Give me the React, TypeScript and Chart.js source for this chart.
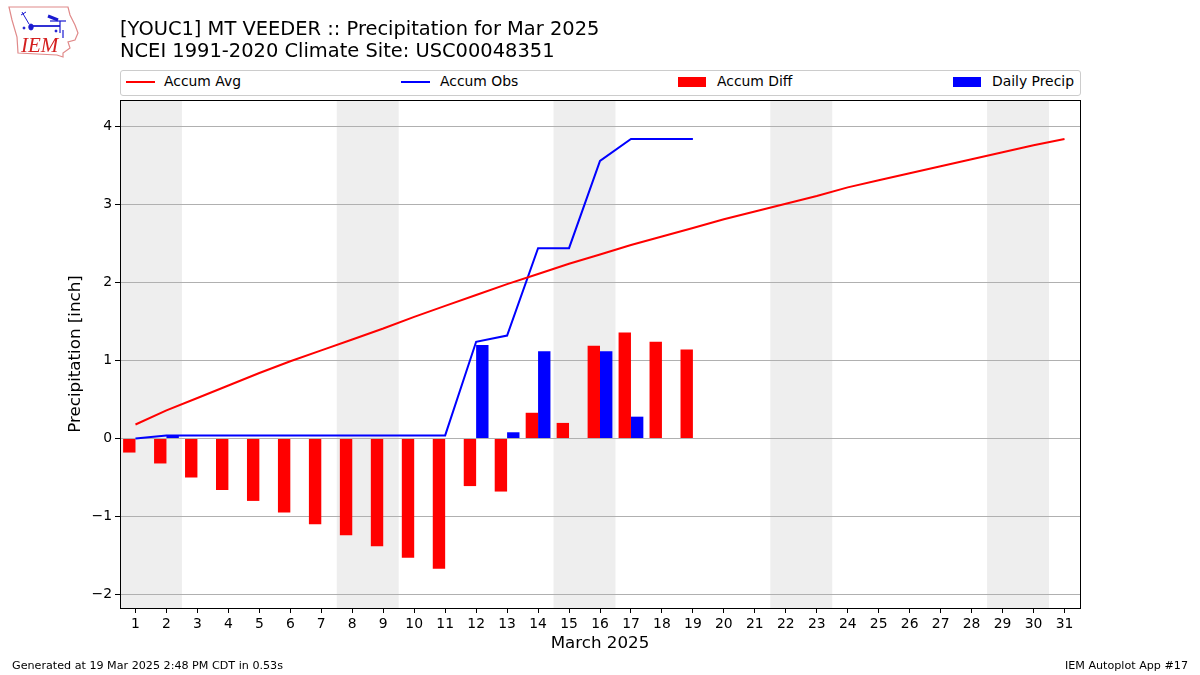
import React, { useEffect, useRef } from "react";
import { Chart, registerables } from "chart.js";

Chart.register(...registerables);

const days = ["1","2","3","4","5","6","7","8","9","10","11","12","13","14","15","16","17","18","19","20","21","22","23","24","25","26","27","28","29","30","31"];
const accumAvg = [0.18,0.36,0.52,0.68,0.84,0.99,1.13,1.27,1.41,1.56,1.70,1.84,1.98,2.11,2.24,2.36,2.48,2.59,2.70,2.81,2.91,3.01,3.11,3.22,3.31,3.40,3.49,3.58,3.67,3.76,3.84];
const accumObs = [0,0.04,0.04,0.04,0.04,0.04,0.04,0.04,0.04,0.04,0.04,1.24,1.32,2.44,2.44,3.56,3.84,3.84,3.84];
const accumDiff = [-0.18,-0.32,-0.50,-0.66,-0.80,-0.95,-1.10,-1.24,-1.38,-1.53,-1.67,-0.61,-0.68,0.33,0.20,1.19,1.36,1.24,1.14];
const dailyPrecip = [null,0.04,null,null,null,null,null,null,null,null,null,1.20,0.08,1.12,null,1.12,0.28,null,null];
const weekends = [[0,1],[7,8],[14,15],[21,22],[28,29]];
const yTicks = [-2,-1,0,1,2,3,4];
const yMin = -2.173;
const yMax = 4.34;
const titleLines = ["[YOUC1] MT VEEDER :: Precipitation for Mar 2025", "NCEI 1991-2020 Climate Site: USC00048351"];
const xTitle = "March 2025";
const yTitle = "Precipitation [inch]";
const footerLeft = "Generated at 19 Mar 2025 2:48 PM CDT in 0.53s";
const footerRight = "IEM Autoplot App #17";
const legendItems = [
  { label: "Accum Avg", color: "#ff0000", kind: "line", x: 126, tx: 164 },
  { label: "Accum Obs", color: "#0000ff", kind: "line", x: 401, tx: 440 },
  { label: "Accum Diff", color: "#ff0000", kind: "bar", x: 678, tx: 717 },
  { label: "Daily Precip", color: "#0000ff", kind: "bar", x: 953, tx: 992 },
];

const FONT = "'DejaVu Sans', sans-serif";

const framePlugin = {
  id: "frame",
  beforeDraw(chart: any) {
    const { ctx, chartArea: a, scales } = chart;
    const x = scales.x;
    const half = (x.getPixelForValue(1) - x.getPixelForValue(0)) / 2;
    ctx.save();
    ctx.fillStyle = "#eeeeee";
    for (const [s, e] of weekends) {
      const l = x.getPixelForValue(s) - half;
      const r = x.getPixelForValue(e) + half;
      ctx.fillRect(l, a.top, r - l, a.bottom - a.top);
    }
    ctx.restore();
  },
  afterDraw(chart: any) {
    const { ctx, chartArea: a } = chart;
    ctx.save();
    ctx.strokeStyle = "#000";
    ctx.lineWidth = 1;
    ctx.strokeRect(Math.floor(a.left) + 0.5, Math.floor(a.top) + 0.5, Math.round(a.right - a.left), Math.round(a.bottom - a.top));
    ctx.restore();
  },
};

export default function App() {
  const ref = useRef<HTMLCanvasElement>(null);
  useEffect(() => {
    const chart = new Chart(ref.current as any, {
      type: "bar",
      data: {
        labels: days,
        datasets: [
          { type: "line", label: "Accum Avg", data: accumAvg, borderColor: "#ff0000", borderWidth: 2, pointRadius: 0, tension: 0, order: 0 },
          { type: "line", label: "Accum Obs", data: accumObs, borderColor: "#0000ff", borderWidth: 2, pointRadius: 0, tension: 0, order: 0 },
          { type: "bar", label: "Accum Diff", data: accumDiff, backgroundColor: "#ff0000", categoryPercentage: 0.8, barPercentage: 1, order: 1 },
          { type: "bar", label: "Daily Precip", data: dailyPrecip, backgroundColor: "#0000ff", categoryPercentage: 0.8, barPercentage: 1, order: 1 },
        ] as any,
      },
      options: {
        animation: false,
        responsive: false,
        layout: { padding: { left: 66, top: 100, right: 120, bottom: 21 } },
        plugins: { legend: { display: false }, title: { display: false }, tooltip: { enabled: false } },
        scales: {
          x: {
            type: "category",
            offset: true,
            grid: { drawOnChartArea: false, drawTicks: true, tickLength: 5, tickColor: "#000", offset: false },
            border: { display: false },
            ticks: { color: "#000", font: { family: FONT, size: 13.9 }, padding: 3, maxRotation: 0, autoSkip: false },
            title: { display: true, text: xTitle, color: "#000", font: { family: FONT, size: 16.7 }, padding: 0 },
            afterFit(s: any) { s.height = 46; },
          },
          y: {
            type: "linear",
            min: yMin,
            max: yMax,
            grid: { color: "#b0b0b0", lineWidth: 1, tickLength: 5, tickColor: "#000" },
            border: { display: false },
            afterBuildTicks(s: any) { s.ticks = yTicks.map((v) => ({ value: v })); },
            ticks: {
              color: "#000",
              font: { family: FONT, size: 13.9 },
              padding: 3,
              callback: (v: any) => String(v).replace("-", "\u2212"),
            },
            title: { display: true, text: yTitle, color: "#000", font: { family: FONT, size: 16.7 }, padding: 0 },
            afterFit(s: any) { s.width = 54; },
          },
        },
      } as any,
      plugins: [framePlugin],
    });
    return () => chart.destroy();
  }, []);

  return (
    <div style={{ position: "absolute", left: 0, top: 0, width: 1200, height: 675, overflow: "hidden", background: "#fff", fontFamily: FONT, color: "#000" }}>
      <canvas ref={ref} width={1200} height={675} style={{ position: "absolute", left: 0, top: 0, display: "block" }} />
      <svg width={90} height={62} style={{ position: "absolute", left: 0, top: 0 }}>
        <polygon points="9,7 68,7 70,15 75,25 78,33 75,40 68,42 70,48 63,53 63,57 57,55 18,53 17,37 12,20" fill="none" stroke="#e08a8a" strokeWidth={1.2} />
        <g stroke="#1a1ad0" fill="#1a1ad0">
          <line x1={31} y1={26} x2={60} y2={26} strokeWidth={1.8} />
          <ellipse cx={31} cy={27} rx={2.2} ry={3} />
          <line x1={48} y1={16} x2={58} y2={20} strokeWidth={3} />
          <line x1={50} y1={21} x2={66} y2={21} strokeWidth={1.2} />
          <line x1={60} y1={21} x2={60} y2={33} strokeWidth={1.2} />
          <line x1={63} y1={30} x2={63} y2={38} strokeWidth={1.2} />
          <line x1={22} y1={12} x2={29} y2={24} strokeWidth={1} />
          <line x1={21} y1={15} x2={26} y2={12} strokeWidth={1} />
          <circle cx={24} cy={28} r={1} />
          <circle cx={56} cy={31} r={1} />
        </g>
        <text x={21} y={52} fontFamily="'Liberation Serif', serif" fontStyle="italic" fontSize={21} fill="#d42020">IEM</text>
      </svg>
      {titleLines.map((t, i) => (
        <div key={t} style={{ position: "absolute", left: 120, top: 17 + i * 22, fontSize: 19.45, lineHeight: "24px", whiteSpace: "nowrap" }}>{t}</div>
      ))}
      <div style={{ position: "absolute", left: 120, top: 70, width: 959, height: 24, border: "1px solid #cccccc", borderRadius: 3, background: "#fff" }} />
      {legendItems.map((it) => (
        <React.Fragment key={it.label}>
          {it.kind === "line" ? (
            <div style={{ position: "absolute", left: it.x, top: 80.5, width: 29, height: 2, background: it.color }} />
          ) : (
            <div style={{ position: "absolute", left: it.x, top: 77, width: 28, height: 9.5, background: it.color }} />
          )}
          <div style={{ position: "absolute", left: it.tx, top: 73, fontSize: 13.9, lineHeight: "17px", whiteSpace: "nowrap" }}>{it.label}</div>
        </React.Fragment>
      ))}
      <div style={{ position: "absolute", left: 12, top: 659, fontSize: 11.15, lineHeight: "14px", whiteSpace: "nowrap" }}>{footerLeft}</div>
      <div style={{ position: "absolute", right: 12, top: 659, fontSize: 11.15, lineHeight: "14px", whiteSpace: "nowrap" }}>{footerRight}</div>
    </div>
  );
}
